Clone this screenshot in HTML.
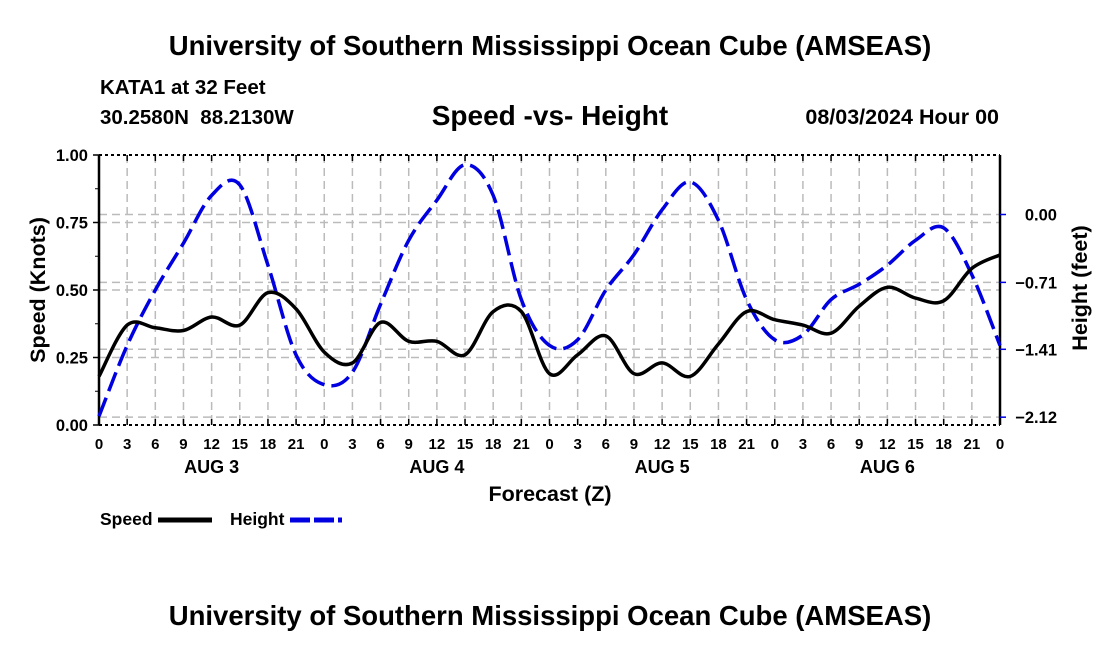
<!DOCTYPE html>
<html><head><meta charset="utf-8"><style>
body{margin:0;background:#fff;}
svg text{font-family:"Liberation Sans",sans-serif;font-weight:bold;fill:#000;white-space:pre;}
</style></head><body>
<svg id="chart" width="1100" height="650" viewBox="0 0 1100 650">
<text x="550" y="55" font-size="27.5" text-anchor="middle">University of Southern Mississippi Ocean Cube (AMSEAS)</text>
<text x="100" y="94" font-size="20.5">KATA1 at 32 Feet</text>
<text x="100" y="124" font-size="20.5">30.2580N  88.2130W</text>
<text x="550" y="125" font-size="28" text-anchor="middle">Speed -vs- Height</text>
<text x="999" y="124" font-size="21.5" text-anchor="end">08/03/2024 Hour 00</text>
<g id="grid"></g>
<g id="axes"></g>
<g id="series"></g>
<text x="550" y="501" font-size="21.5" text-anchor="middle">Forecast (Z)</text>
<text transform="translate(45,290) rotate(-90)" font-size="21.5" text-anchor="middle">Speed (Knots)</text>
<text transform="translate(1087,288) rotate(-90)" font-size="21.5" text-anchor="middle">Height (feet)</text>
<g>
<text x="100" y="525" font-size="17.5">Speed</text>
<line x1="158" y1="520" x2="212" y2="520" stroke="#000" stroke-width="5"/>
<text x="230" y="525" font-size="17.5">Height</text>
<line x1="290" y1="520" x2="342" y2="520" stroke="#0000e0" stroke-width="5" stroke-dasharray="20,4"/>
</g>
<text x="550" y="625" font-size="27.5" text-anchor="middle">University of Southern Mississippi Ocean Cube (AMSEAS)</text>
</svg>
<script>
const hours=[0,3,6,9,12,15,18,21,24,27,30,33,36,39,42,45,48,51,54,57,60,63,66,69,72,75,78,81,84,87,90,93,96];
const speedValues=[0.18,0.37,0.36,0.35,0.40,0.37,0.49,0.43,0.27,0.23,0.38,0.31,0.31,0.26,0.42,0.42,0.19,0.26,0.33,0.19,0.23,0.18,0.30,0.42,0.39,0.37,0.34,0.44,0.51,0.47,0.46,0.58,0.63];
const heightValues=[-2.11,-1.37,-0.79,-0.30,0.20,0.31,-0.53,-1.47,-1.78,-1.65,-0.94,-0.27,0.15,0.52,0.20,-0.89,-1.37,-1.31,-0.79,-0.42,0.05,0.34,-0.06,-0.89,-1.31,-1.26,-0.89,-0.73,-0.53,-0.27,-0.14,-0.63,-1.37];
const speedTicks=[0,0.25,0.5,0.75,1.0];
const speedTickLabels=["0.00","0.25","0.50","0.75","1.00"];
const heightTicks=[0,-0.71,-1.41,-2.12];
const heightTickLabels=["0.00","\u22120.71","\u22121.41","\u22122.12"];
const dayLabels=["AUG 3","AUG 4","AUG 5","AUG 6"];

const X0=99,X1=1000,Y0=425,Y1=155;
const xs=h=>X0+(h/96)*(X1-X0);
const ys=v=>Y0-(v)*(Y0-Y1);
const yh=v=>214.5-v*95.6;
const NS="http://www.w3.org/2000/svg";
function mk(tag,attrs,parent){const e=document.createElementNS(NS,tag);for(const k in attrs)e.setAttribute(k,attrs[k]);parent.appendChild(e);return e;}
const grid=document.getElementById('grid'),axes=document.getElementById('axes'),series=document.getElementById('series');
const gs={stroke:"#bbb","stroke-width":1.5,"stroke-dasharray":"8,5"};
for(let h=3;h<96;h+=3){const l=mk('line',Object.assign({x1:xs(h),x2:xs(h),y1:Y1,y2:Y0},gs),grid);

}
speedTicks.forEach(v=>{if(v>0&&v<1){const l=mk('line',Object.assign({x1:X0,x2:X1,y1:ys(v),y2:ys(v)},gs),grid);

}});
heightTicks.forEach(v=>{const l=mk('line',Object.assign({x1:X0,x2:X1,y1:yh(v),y2:yh(v)},gs),grid);

});
mk('line',{x1:X0,x2:X0,y1:Y1,y2:Y0,stroke:"#000","stroke-width":2.5},axes);
mk('line',{x1:X1,x2:X1,y1:Y1,y2:Y0,stroke:"#000","stroke-width":2.5},axes);
mk('line',{x1:X0,x2:X1,y1:Y1,y2:Y1,stroke:"#000","stroke-width":2,"stroke-dasharray":"3,3"},axes);
mk('line',{x1:X0,x2:X1,y1:Y0,y2:Y0,stroke:"#000","stroke-width":2,"stroke-dasharray":"3,3"},axes);
for(let h=0;h<=96;h+=3){
 mk('line',{x1:xs(h),x2:xs(h),y1:Y0,y2:Y0-6,stroke:"#000","stroke-width":1.5},axes);
 mk('line',{x1:xs(h),x2:xs(h),y1:Y1,y2:Y1+6,stroke:"#000","stroke-width":1.5},axes);
 const t=mk('text',{x:xs(h),y:449,"font-size":15,"text-anchor":"middle"},axes);t.textContent=String(h%24);
 
 
}
dayLabels.forEach((d,i)=>{const t=mk('text',{x:xs(i*24+12),y:473,"font-size":18,"text-anchor":"middle"},axes);t.textContent=d;

});
speedTicks.forEach((v,i)=>{mk('line',{x1:X0-6,x2:X0,y1:ys(v),y2:ys(v),stroke:"#000","stroke-width":1.5},axes);
const t=mk('text',{x:88,y:ys(v)+6,"font-size":16.5,"text-anchor":"end"},axes);t.textContent=speedTickLabels[i];

});
for(let v=0.125;v<1;v+=0.25)mk('line',{x1:X0-4,x2:X0,y1:ys(v),y2:ys(v),stroke:"#000","stroke-width":1},axes);
heightTicks.forEach((v,i)=>{mk('line',{x1:X1,x2:X1+6,y1:yh(v),y2:yh(v),stroke:"#0000e0","stroke-width":1.5},axes);
const t=mk('text',{x:1057,y:yh(v)+6,"font-size":16.5,"text-anchor":"end"},axes);t.textContent=heightTickLabels[i];

});
function smooth(pts){let d=`M${pts[0][0]},${pts[0][1]}`;for(let i=0;i<pts.length-1;i++){const p0=pts[Math.max(0,i-1)],p1=pts[i],p2=pts[i+1],p3=pts[Math.min(pts.length-1,i+2)];
d+=` C${p1[0]+(p2[0]-p0[0])/6},${p1[1]+(p2[1]-p0[1])/6} ${p2[0]-(p3[0]-p1[0])/6},${p2[1]-(p3[1]-p1[1])/6} ${p2[0]},${p2[1]}`;}return d;}
const hp=mk('path',{d:smooth(hours.map((h,i)=>[xs(h),yh(heightValues[i])])),fill:"none",stroke:"#0000e0","stroke-width":3.5,"stroke-dasharray":"20,7"},series);


const sp=mk('path',{d:smooth(hours.map((h,i)=>[xs(h),ys(speedValues[i])])),fill:"none",stroke:"#000","stroke-width":3.5},series);


</script>
</body></html>
